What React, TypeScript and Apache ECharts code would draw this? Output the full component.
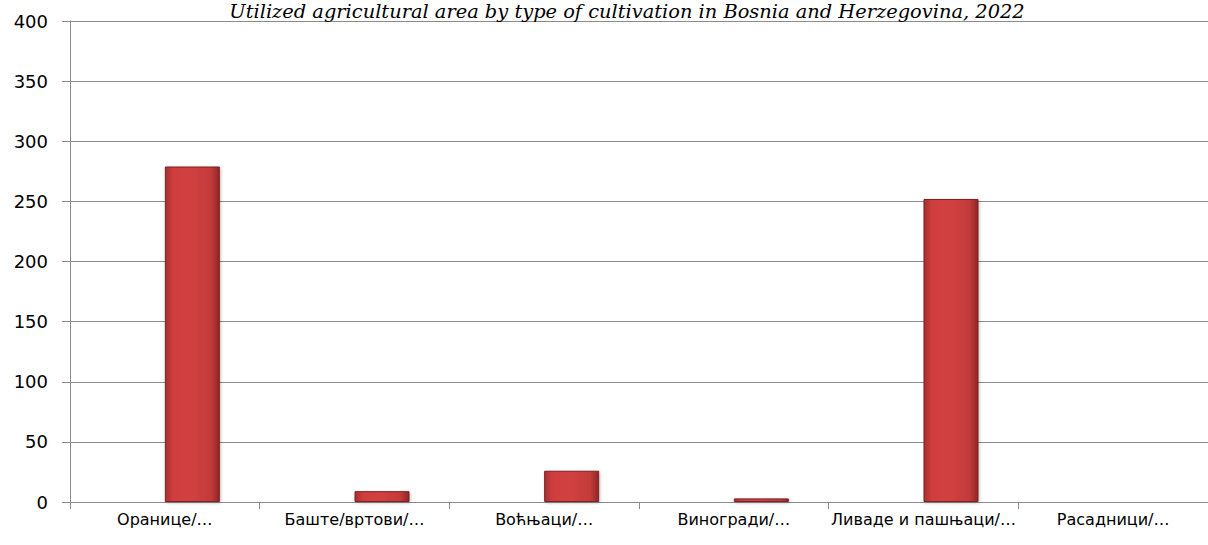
import React, { useEffect, useRef } from "react";
import * as echarts from "echarts";

const categories = [
  "Оранице/…",
  "Баште/вртови/…",
  "Воћњаци/…",
  "Виногради/…",
  "Ливаде и пашњаци/…",
  "Расадници/…",
];
const values = [279, 9, 26, 3, 252, 0.4];
const placeholder = [null, null, null, null, null, null];
const titleText =
  "Utilized agricultural area by type of cultivation in Bosnia and Herzegovina, 2022";

export default function App() {
  const ref = useRef<HTMLDivElement>(null);
  useEffect(() => {
    document.body.style.margin = "0";
    const chart = echarts.init(ref.current!, null, { renderer: "svg" });
    const barColor = {
      type: "linear",
      x: 0,
      y: 0,
      x2: 1,
      y2: 0,
      colorStops: [
        { offset: 0, color: "#a83030" },
        { offset: 0.15, color: "#cf3e3e" },
        { offset: 0.5, color: "#d14040" },
        { offset: 0.85, color: "#c23a3a" },
        { offset: 1, color: "#8e2626" },
      ],
    };
    chart.setOption({
      animation: false,
      backgroundColor: "#ffffff",
      title: {
        text: titleText,
        left: 622,
        textAlign: "center",
        top: -3,
        textStyle: {
          fontFamily: "DejaVu Serif",
          fontStyle: "italic",
          fontWeight: "normal",
          fontSize: 19.4,
          color: "#000000",
        },
      },
      grid: { left: 70, right: 0, top: 21, bottom: 43, containLabel: false },
      xAxis: {
        type: "category",
        data: categories,
        axisLine: { show: true, lineStyle: { color: "#8c8c8c", width: 1 } },
        axisTick: { show: true, length: 7, lineStyle: { color: "#8c8c8c" } },
        axisLabel: {
          interval: 0,
          margin: 9,
          fontFamily: "DejaVu Sans",
          fontSize: 16,
          color: "#000000",
        },
        splitLine: { show: false },
      },
      yAxis: {
        type: "value",
        min: 0,
        max: 400,
        interval: 50,
        axisLine: { show: true, lineStyle: { color: "#8c8c8c", width: 1 } },
        axisTick: { show: true, length: 8, lineStyle: { color: "#8c8c8c" } },
        axisLabel: {
          margin: 22,
          fontFamily: "DejaVu Sans",
          fontSize: 18,
          color: "#000000",
        },
        splitLine: { show: true, lineStyle: { color: "#8c8c8c", width: 1 } },
      },
      series: [
        {
          type: "bar",
          data: placeholder,
          barWidth: 55,
          barGap: "0%",
          itemStyle: { color: "transparent" },
        },
        {
          type: "bar",
          data: values,
          barWidth: 55,
          barGap: "0%",
          itemStyle: {
            color: barColor,
            borderColor: "#7d2020",
            borderWidth: 1,
            shadowColor: "rgba(0,0,0,0.25)",
            shadowBlur: 3,
            shadowOffsetX: 1,
            shadowOffsetY: 1,
          },
        },
      ],
    });
    return () => chart.dispose();
  }, []);
  return (
    <div
      ref={ref}
      style={{ position: "absolute", left: 0, top: 0, width: 1208, height: 545 }}
    />
  );
}
